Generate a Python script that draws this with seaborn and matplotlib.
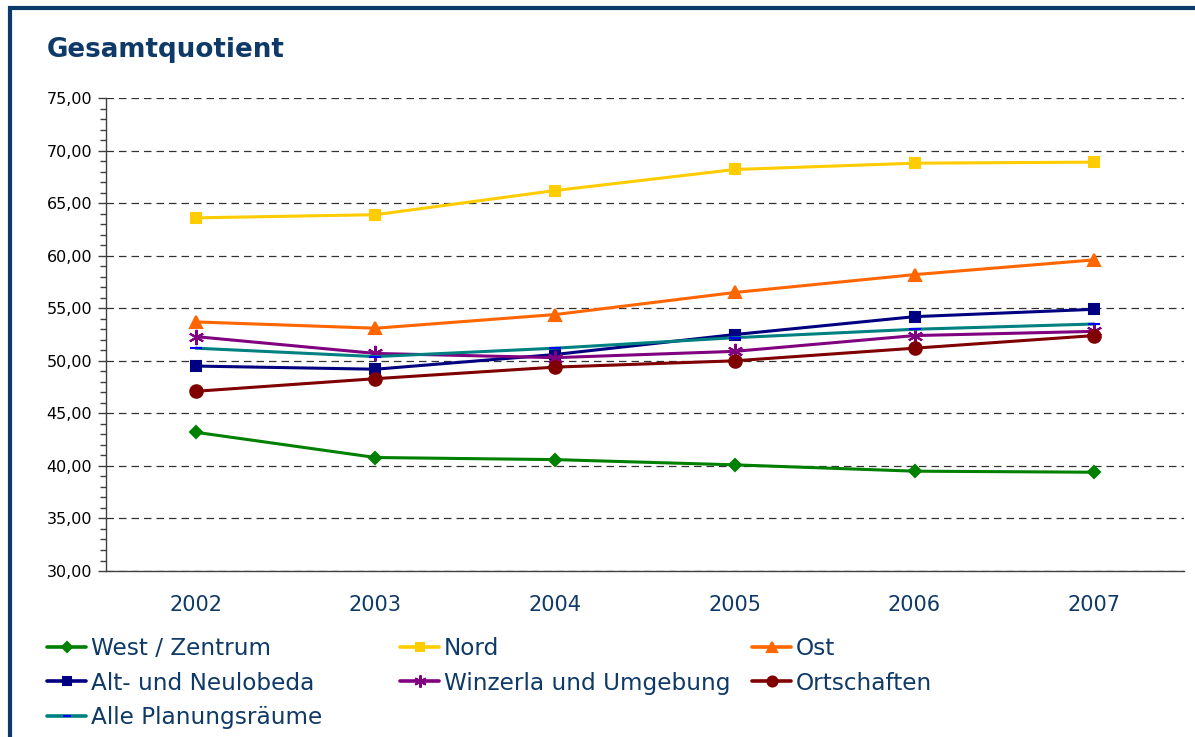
import matplotlib
matplotlib.use("Agg")
import matplotlib.pyplot as plt
from matplotlib.lines import Line2D
from matplotlib.patches import Rectangle
from matplotlib.ticker import MultipleLocator, FuncFormatter
import pandas as pd
import seaborn as sns

years = [2002, 2003, 2004, 2005, 2006, 2007]

west_zentrum = [43.2, 40.8, 40.6, 40.1, 39.5, 39.4]
nord = [63.6, 63.9, 66.2, 68.2, 68.8, 68.9]
ost = [53.7, 53.1, 54.4, 56.5, 58.2, 59.6]
alt_neulobeda = [49.5, 49.2, 50.6, 52.5, 54.2, 54.9]
winzerla = [52.3, 50.7, 50.3, 50.9, 52.4, 52.8]
ortschaften = [47.1, 48.3, 49.4, 50.0, 51.2, 52.4]
alle = [51.2, 50.4, 51.2, 52.2, 53.0, 53.5]

navy_text = "#0f3a68"

# name, values, line colour, marker, marker size, marker colour
series = [
    ("West / Zentrum", west_zentrum, "#008000", "D", 6, "#008000"),
    ("Nord", nord, "#FFCC00", "s", 7.5, "#FFCC00"),
    ("Ost", ost, "#FF6600", "^", 9, "#FF6600"),
    ("Alt- und Neulobeda", alt_neulobeda, "#000080", "s", 7, "#000080"),
    ("Winzerla und Umgebung", winzerla, "#800080", (6, 2, 0), 11, "#800080"),
    ("Ortschaften", ortschaften, "#800000", "o", 9, "#800000"),
    ("Alle Planungsräume", alle, "#008080", "_", 8, "#0000FF"),
]

sns.set_style("white")
plt.rcParams["font.family"] = ["DejaVu Sans"]

fig = plt.figure(figsize=(11.95, 7.37), dpi=100)
ax = fig.add_axes([0.0887, 0.2252, 0.9021, 0.6418])

handles = {}
for name, vals, col, mk, ms, mcol in series:
    df = pd.DataFrame({"Jahr": years, "Wert": vals})
    sns.lineplot(data=df, x="Jahr", y="Wert", ax=ax, color=col, linewidth=2.2,
                 marker=mk, markersize=ms, markerfacecolor=mcol,
                 markeredgecolor=mcol, markeredgewidth=1.5, zorder=3)
    handles[name] = Line2D([], [], color=col, linewidth=2.6, marker=mk,
                           markersize=ms * 0.8, markerfacecolor=mcol,
                           markeredgecolor=mcol, markeredgewidth=1.5)

ax.set_xlim(2001.5, 2007.5)
ax.set_ylim(30, 75)
ax.set_xlabel("")
ax.set_ylabel("")

ax.set_xticks(years)
ax.set_xticks([y + 0.5 for y in [2001] + years], minor=True)
ax.tick_params(axis="x", which="major", length=0, pad=17, labelsize=15,
               labelcolor=navy_text)
ax.tick_params(axis="x", which="minor", length=6, width=1, color="#404040",
               direction="out")

ax.yaxis.set_major_locator(MultipleLocator(5))
ax.yaxis.set_minor_locator(MultipleLocator(1))
ax.yaxis.set_major_formatter(FuncFormatter(lambda v, p: f"{v:.2f}".replace(".", ",")))
ax.tick_params(axis="y", which="major", length=6, width=1, color="#404040",
               direction="out", labelsize=11.5, labelcolor="black", pad=4, left=True)
ax.tick_params(axis="y", which="minor", length=4, width=1, color="#404040",
               direction="out", left=True)

ax.grid(axis="y", which="major", color="#333333", linestyle=(0, (6, 4)),
        linewidth=0.9, zorder=0)
ax.grid(axis="x", visible=False)
for side in ["top", "right"]:
    ax.spines[side].set_visible(False)
for side in ["left", "bottom"]:
    ax.spines[side].set_color("#404040")
    ax.spines[side].set_linewidth(1)

fig.text(47 / 1195, 1 - 50 / 737, "Gesamtquotient", fontsize=18.8,
         fontweight="bold", color="#0f3a68", va="center", ha="left")

# frame around the panel (only left and top are inside the crop)
fig.patches.append(Rectangle((10 / 1195, -0.05), 1.2, 1 - 8 / 737 + 0.05,
                             transform=fig.transFigure, fill=False,
                             edgecolor="#0b3a6a", linewidth=3))

# legend laid out in three columns, rows read left to right
columns = [
    (["West / Zentrum", "Alt- und Neulobeda", "Alle Planungsräume"], 47),
    (["Nord", "Winzerla und Umgebung"], 400),
    (["Ost", "Ortschaften"], 752),
]
for names, xpix in columns:
    leg = fig.legend([handles[n] for n in names], names,
                     loc="upper left", bbox_to_anchor=(xpix / 1195, 1 - 637 / 737),
                     frameon=False, fontsize=16.7, handlelength=1.7,
                     handletextpad=0.2, labelspacing=0.5, borderpad=0,
                     borderaxespad=0)
    for t in leg.get_texts():
        t.set_color(navy_text)

fig.savefig("out.png", dpi=100)
